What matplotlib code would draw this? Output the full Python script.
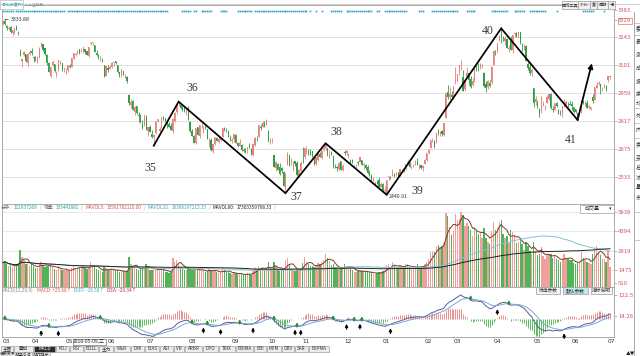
import numpy as np
import pandas as pd
import matplotlib
matplotlib.use("Agg")
import matplotlib.pyplot as plt
import matplotlib.transforms as mtransforms
from matplotlib.patches import Rectangle

plt.rcParams['font.family'] = ['Noto Sans CJK SC', 'DejaVu Sans']

# ---- data: SSE daily candles, 2018-03-12 .. 2019-07-02 ----
month_labels = ['03', '04', '05', '06', '07', '08', '09', '10', '11', '12',
                '01', '02', '03', '04', '05', '06', '07']
month_sizes = [15, 18, 22, 20, 22, 23, 19, 18, 22, 20, 22, 15, 21, 21, 20, 19, 2]

opens = [
    3310, 3327, 3300, 3285, 3295, 3262, 3268, 3297, 3270, 3170, 3122, 3155, 3157, 3110, 3160,
    3174, 3142, 3137, 3116, 3139, 3197, 3206, 3189, 3150, 3111, 3045, 3104, 3107, 3056, 3074, 3110, 3112, 3079,
    3081, 3075, 3096, 3092, 3134, 3152, 3162, 3181, 3170, 3172, 3183, 3172, 3149, 3209, 3214, 3205, 3163, 3153, 3133, 3129, 3101, 3048,
    3084, 3081, 3091, 3110, 3120, 3100, 3064, 3053, 3069, 3036, 3041, 2950, 2899, 2917, 2863, 2893, 2848, 2843, 2794, 2796,
    2842, 2765, 2788, 2752, 2737, 2753, 2819, 2768, 2783, 2839, 2832, 2812, 2801, 2790, 2768, 2818, 2860, 2903, 2899, 2888, 2874, 2860,
    2882, 2810, 2767, 2738, 2706, 2784, 2740, 2794, 2771, 2787, 2775, 2700, 2722, 2664, 2701, 2731, 2712, 2720, 2737, 2782, 2772, 2765, 2729,
    2716, 2725, 2744, 2702, 2691, 2696, 2668, 2663, 2673, 2689, 2673, 2641, 2693, 2731, 2735, 2785, 2784, 2801, 2798,
    2768, 2719, 2724, 2644, 2579, 2597, 2583, 2578, 2556, 2472, 2592, 2641, 2601, 2572, 2612, 2603, 2532, 2563,
    2608, 2633, 2661, 2665, 2661, 2663, 2628, 2600, 2618, 2650, 2630, 2670, 2681, 2678, 2635, 2660, 2640, 2581, 2584, 2572, 2614, 2567,
    2657, 2653, 2636, 2620, 2616, 2585, 2587, 2605, 2606, 2618, 2593, 2594, 2583, 2547, 2534, 2515, 2495, 2510, 2518, 2483,
    2497, 2461, 2446, 2529, 2532, 2536, 2538, 2540, 2556, 2535, 2570, 2569, 2571, 2598, 2603, 2576, 2585, 2598, 2609, 2592, 2593, 2577,
    2597, 2617, 2654, 2677, 2719, 2717, 2705, 2762, 2755, 2765, 2745, 2833, 2966, 2941, 2947,
    2954, 3015, 3020, 3063, 3102, 3039, 2979, 3041, 3060, 3029, 3001, 3025, 3097, 3092, 3090, 3094, 3059, 3005, 2990, 3008, 3014,
    3104, 3177, 3171, 3231, 3259, 3243, 3225, 3235, 3183, 3222, 3178, 3257, 3263, 3250, 3271, 3202, 3196, 3196, 3106, 3090, 3063,
    2984, 2914, 2898, 2878, 2869, 2897, 2877, 2906, 2926, 2955, 2880, 2870, 2906, 2874, 2858, 2850, 2888, 2893, 2907, 2904,
    2901, 2888, 2877, 2856, 2842, 2857, 2919, 2902, 2910, 2888, 2880, 2941, 2925, 2984, 3005, 3004, 2973, 2989, 2994,
    3024, 3043,
]
highs = [
    3329, 3334, 3306, 3300, 3299, 3280, 3291, 3304, 3277, 3182, 3134, 3172, 3160, 3162, 3177,
    3190, 3147, 3147, 3146, 3192, 3220, 3207, 3190, 3156, 3118, 3092, 3126, 3107, 3073, 3129, 3125, 3114, 3090,
    3087, 3100, 3106, 3136, 3164, 3162, 3177, 3185, 3187, 3192, 3183, 3175, 3194, 3220, 3219, 3205, 3177, 3156, 3148, 3136, 3103, 3098,
    3103, 3101, 3116, 3117, 3124, 3100, 3067, 3080, 3072, 3055, 3047, 2954, 2928, 2923, 2894, 2893, 2864, 2853, 2820, 2847,
    2845, 2787, 2794, 2770, 2749, 2815, 2828, 2787, 2839, 2844, 2834, 2816, 2809, 2808, 2833, 2861, 2905, 2915, 2910, 2893, 2893, 2877,
    2895, 2815, 2778, 2747, 2779, 2788, 2795, 2805, 2791, 2796, 2777, 2730, 2732, 2698, 2735, 2736, 2740, 2737, 2780, 2788, 2779, 2767, 2745,
    2729, 2751, 2750, 2712, 2727, 2698, 2681, 2680, 2686, 2707, 2679, 2699, 2737, 2741, 2797, 2801, 2816, 2817, 2827,
    2771, 2732, 2731, 2645, 2614, 2605, 2604, 2584, 2562, 2553, 2659, 2641, 2628, 2612, 2615, 2611, 2574, 2612,
    2686, 2681, 2687, 2673, 2675, 2665, 2631, 2631, 2658, 2658, 2669, 2690, 2703, 2681, 2668, 2664, 2640, 2597, 2587, 2604, 2615, 2596,
    2668, 2667, 2653, 2624, 2624, 2595, 2598, 2612, 2635, 2619, 2602, 2598, 2594, 2568, 2548, 2529, 2508, 2515, 2532, 2505,
    2501, 2488, 2516, 2536, 2534, 2574, 2553, 2555, 2556, 2571, 2574, 2573, 2598, 2618, 2609, 2588, 2597, 2618, 2630, 2597, 2594, 2590,
    2625, 2654, 2673, 2721, 2731, 2722, 2755, 2775, 2766, 2772, 2805, 2961, 3000, 2990, 2969,
    2995, 3090, 3054, 3103, 3129, 3075, 3026, 3090, 3060, 3044, 3034, 3096, 3102, 3110, 3110, 3106, 3064, 3018, 3023, 3024, 3094,
    3177, 3180, 3216, 3253, 3288, 3248, 3249, 3236, 3201, 3249, 3254, 3268, 3271, 3271, 3271, 3213, 3206, 3198, 3116, 3107, 3088,
    2986, 2942, 2925, 2883, 2942, 2917, 2900, 2948, 2956, 2957, 2894, 2910, 2912, 2876, 2871, 2892, 2926, 2922, 2913, 2920,
    2918, 2888, 2878, 2858, 2875, 2925, 2922, 2918, 2921, 2897, 2890, 2954, 2988, 3015, 3018, 3006, 2988, 3006, 2999,
    3046, 3048,
]
lows = [
    3306, 3303, 3280, 3280, 3263, 3252, 3261, 3278, 3254, 3146, 3091, 3147, 3118, 3098, 3154,
    3154, 3115, 3120, 3111, 3139, 3195, 3175, 3155, 3101, 3066, 3042, 3097, 3066, 3041, 3070, 3107, 3069, 3068,
    3056, 3068, 3087, 3092, 3134, 3145, 3157, 3158, 3169, 3165, 3156, 3154, 3140, 3203, 3201, 3168, 3149, 3133, 3124, 3118, 3041, 3046,
    3065, 3081, 3088, 3099, 3108, 3060, 3040, 3042, 3049, 3034, 3011, 2896, 2882, 2874, 2845, 2853, 2812, 2805, 2776, 2792,
    2770, 2741, 2759, 2730, 2691, 2752, 2812, 2763, 2783, 2820, 2811, 2780, 2786, 2770, 2753, 2812, 2852, 2893, 2880, 2867, 2860, 2847,
    2823, 2763, 2738, 2705, 2701, 2744, 2729, 2779, 2757, 2777, 2723, 2683, 2666, 2653, 2696, 2713, 2705, 2715, 2737, 2767, 2759, 2737, 2714,
    2706, 2712, 2703, 2685, 2687, 2663, 2658, 2652, 2656, 2678, 2644, 2638, 2688, 2717, 2734, 2773, 2784, 2787, 2797,
    2710, 2701, 2702, 2583, 2564, 2566, 2544, 2552, 2486, 2449, 2590, 2585, 2590, 2562, 2589, 2537, 2532, 2563,
    2605, 2625, 2647, 2641, 2641, 2634, 2592, 2590, 2611, 2631, 2624, 2662, 2669, 2638, 2630, 2642, 2579, 2575, 2563, 2565, 2567, 2563,
    2641, 2644, 2630, 2601, 2601, 2580, 2582, 2595, 2606, 2593, 2573, 2565, 2546, 2537, 2508, 2510, 2488, 2497, 2483, 2482,
    2456, 2455, 2441, 2516, 2519, 2536, 2532, 2536, 2531, 2535, 2563, 2555, 2567, 2595, 2580, 2573, 2581, 2592, 2593, 2570, 2573, 2560,
    2597, 2613, 2648, 2677, 2708, 2679, 2705, 2745, 2740, 2739, 2738, 2833, 2926, 2924, 2930,
    2930, 3006, 3016, 3050, 3075, 2969, 2969, 3040, 2999, 2984, 2995, 3016, 3073, 3073, 3082, 3084, 2990, 2964, 2980, 2990, 3004,
    3104, 3154, 3162, 3225, 3216, 3226, 3201, 3186, 3168, 3176, 3163, 3246, 3245, 3237, 3211, 3171, 3179, 3120, 3077, 3050, 3045,
    2890, 2898, 2884, 2838, 2855, 2893, 2875, 2906, 2921, 2877, 2862, 2870, 2887, 2851, 2845, 2839, 2888, 2891, 2889, 2898,
    2872, 2856, 2856, 2822, 2842, 2856, 2902, 2892, 2882, 2876, 2870, 2909, 2923, 2983, 2998, 2955, 2968, 2987, 2971,
    3016, 3030,
]
closes = [
    3327, 3310, 3291, 3291, 3269, 3279, 3290, 3281, 3263, 3153, 3134, 3167, 3123, 3160, 3169,
    3163, 3136, 3131, 3138, 3190, 3208, 3180, 3159, 3111, 3067, 3091, 3117, 3071, 3068, 3129, 3117, 3075, 3082,
    3081, 3100, 3091, 3136, 3161, 3159, 3174, 3163, 3174, 3192, 3170, 3154, 3193, 3214, 3214, 3169, 3155, 3141, 3135, 3120, 3041, 3095,
    3075, 3091, 3114, 3115, 3110, 3067, 3052, 3080, 3049, 3044, 3022, 2907, 2915, 2875, 2890, 2859, 2844, 2813, 2786, 2847,
    2776, 2786, 2759, 2734, 2747, 2815, 2827, 2777, 2837, 2831, 2814, 2798, 2787, 2773, 2829, 2859, 2905, 2903, 2882, 2874, 2869, 2876,
    2824, 2768, 2741, 2705, 2779, 2744, 2795, 2795, 2785, 2781, 2724, 2705, 2669, 2698, 2734, 2715, 2725, 2730, 2780, 2777, 2770, 2737, 2725,
    2720, 2750, 2705, 2691, 2703, 2670, 2665, 2657, 2686, 2682, 2652, 2700, 2731, 2730, 2797, 2782, 2806, 2792, 2821,
    2716, 2721, 2725, 2584, 2607, 2568, 2547, 2561, 2486, 2550, 2655, 2595, 2603, 2604, 2599, 2542, 2568, 2603,
    2606, 2677, 2665, 2659, 2641, 2636, 2599, 2631, 2655, 2632, 2669, 2680, 2703, 2646, 2651, 2646, 2580, 2576, 2575, 2602, 2568, 2588,
    2655, 2666, 2649, 2605, 2606, 2585, 2594, 2603, 2634, 2594, 2598, 2577, 2550, 2537, 2517, 2527, 2504, 2498, 2483, 2494,
    2465, 2464, 2515, 2534, 2527, 2544, 2536, 2554, 2536, 2571, 2570, 2560, 2596, 2610, 2580, 2581, 2592, 2601, 2597, 2594, 2575, 2585,
    2619, 2653, 2671, 2721, 2720, 2682, 2754, 2756, 2762, 2751, 2804, 2961, 2941, 2954, 2941,
    2995, 3027, 3054, 3103, 3106, 2970, 3026, 3061, 3027, 2991, 3022, 3096, 3091, 3090, 3101, 3104, 2997, 2982, 3022, 2995, 3091,
    3171, 3176, 3216, 3247, 3245, 3239, 3241, 3189, 3189, 3177, 3254, 3263, 3251, 3271, 3215, 3198, 3202, 3124, 3086, 3063, 3078,
    2907, 2926, 2893, 2850, 2939, 2903, 2883, 2938, 2955, 2882, 2871, 2906, 2892, 2853, 2852, 2892, 2910, 2915, 2906, 2899,
    2891, 2862, 2861, 2827, 2852, 2925, 2909, 2910, 2882, 2888, 2890, 2918, 2988, 3001, 3008, 2982, 2976, 2997, 2979,
    3044, 3044,
]
volumes = [
    2050, 2150, 1900, 1750, 1850, 1700, 1800, 1950, 2000, 2950, 2450, 2200, 1950, 1900, 1800,
    1900, 1750, 1650, 1600, 2000, 2100, 1800, 1700, 1750, 1800, 1900, 1750, 1550, 1500, 1750, 1600, 1500, 1450,
    1450, 1500, 1400, 1600, 1800, 1650, 1600, 1650, 1700, 1750, 1650, 1550, 1600, 2050, 1850, 1750, 1550, 1450, 1400, 1350, 1700, 1600,
    1500, 1450, 1550, 1500, 1450, 1450, 1350, 1400, 1400, 1300, 1400, 2450, 1950, 1700, 1600, 1550, 1500, 1600, 1700, 1650,
    1900, 1750, 1500, 1450, 1600, 1650, 1450, 1400, 1650, 1500, 1350, 1300, 1250, 1300, 2350, 2100, 2200, 1950, 1700, 1600, 1500, 1450,
    1700, 1650, 1500, 1450, 1600, 1500, 1450, 1500, 1400, 1350, 1400, 1550, 1500, 1400, 1450, 1300, 1250, 1300, 1600, 1450, 1350, 1300, 1250,
    1200, 1300, 1250, 1150, 1200, 1150, 1100, 1150, 1250, 1200, 1100, 1400, 1600, 1550, 1800, 1550, 1650, 1500, 1600,
    2100, 1600, 1450, 2050, 1800, 1500, 1400, 1450, 1550, 2250, 2350, 1900, 1650, 1500, 1400, 1450, 1500, 1650,
    2000, 2450, 2100, 1900, 1800, 1750, 1700, 1850, 2000, 1950, 2050, 2200, 2650, 2400, 2150, 1850, 1950, 1700, 1550, 1550, 1600, 1550,
    1900, 1800, 1700, 1650, 1500, 1350, 1300, 1400, 1500, 1400, 1300, 1350, 1300, 1350, 1300, 1200, 1200, 1250, 1350, 1300,
    1400, 1450, 1850, 1900, 1650, 2050, 1800, 1700, 1650, 1850, 1800, 1650, 1900, 1950, 1700, 1550, 1650, 1750, 1900, 1700, 1650, 1700,
    1900, 2100, 2300, 2800, 2900, 2800, 3300, 3350, 3200, 3300, 3500, 5800, 5550, 4700, 4100,
    4400, 5700, 5200, 5300, 5850, 5600, 4800, 5000, 4800, 4500, 4000, 4700, 4400, 4200, 4300, 3900, 4600, 3900, 3600, 3400, 4400,
    5100, 4500, 4600, 5100, 5200, 4200, 3900, 4000, 3500, 4500, 4300, 4000, 3500, 3600, 3900, 3400, 3000, 3600, 3300, 2900, 2700,
    3600, 2900, 2600, 2700, 3200, 2500, 2300, 2600, 2700, 2700, 2400, 2500, 2300, 2200, 2100, 2300, 2700, 2400, 2300, 2200,
    2200, 2000, 1900, 2100, 2100, 2800, 2400, 2200, 2100, 2000, 1950, 2700, 3100, 3300, 2800, 2600, 2300, 2300, 2100,
    3000, 1700,
]

# wave pivots drawn on the price panel
pivot_names = ['35', '36', '37', '38', '39', '40', '41']
pivot_idx = [79, 92, 148, 169, 201, 261, 301]
pivot_kind = ['low', 'high', 'low', 'high', 'low', 'high', 'low']
arrow_target = (308.5, 3110)

# info-mine markers (day index ranges) on the top row
news_ranges = [(0, 5), (7, 32), (34, 41), (42, 52), (53, 63), (64, 86), (94, 98), (100, 101),
               (104, 109), (114, 117), (123, 130), (132, 159), (161, 161), (164, 164), (167, 167),
               (172, 177), (180, 193), (196, 197), (200, 211), (218, 220), (225, 238), (243, 247),
               (256, 264), (268, 273), (276, 284), (290, 290), (304, 309), (315, 315)]

price_ticks = [2533, 2675, 2817, 2959, 3101, 3243, 3329, 3383]
vol_ticks = [510, 1475, 2919, 4394, 5838]
macd_ticks = [14.26, 122.5]

n = len(closes)
assert len(opens) == n and len(highs) == n and len(lows) == n and len(volumes) == n
assert sum(month_sizes) == n
idx = np.arange(n)
month_starts = np.concatenate([[0], np.cumsum(month_sizes)[:-1]])

W, H = 640, 356
UP, DOWN = '#e7817d', '#2f9e44'
VUP, VDOWN = '#efa09c', '#4fb556'
LABEL_RED = '#d9534f'
SPINE = '#9e9e9e'
XLIM = (-0.52, 320.1)

fig = plt.figure(figsize=(6.4, 3.56), dpi=100)
renderer = fig.canvas.get_renderer()


def add_ax(x0, y0, x1, y1):
    return fig.add_axes([x0 / W, 1 - y1 / H, (x1 - x0) / W, (y1 - y0) / H])


def ftext(x, y, s, **kw):
    kw.setdefault('va', 'center')
    kw.setdefault('fontsize', 4.3)
    return fig.text(x / W, 1 - y / H, s, **kw)


def text_row(x, y, parts, size=3.4, gap=2.0):
    # lay out coloured chunks one after another, measured in pixels
    for t, col in parts:
        txt = ftext(x, y, t, color=col, fontsize=size)
        x += txt.get_window_extent(renderer).width + gap


def fbox(x0, y0, x1, y1, fc='white', ec='#a8a8a8', lw=0.5):
    fig.add_artist(Rectangle((x0 / W, 1 - y1 / H), (x1 - x0) / W, (y1 - y0) / H,
                             transform=fig.transFigure, fc=fc, ec=ec, lw=lw))


def style_axes(a):
    for s in a.spines.values():
        s.set_color(SPINE)
        s.set_linewidth(0.6)
    a.set_xlim(*XLIM)
    a.yaxis.tick_right()
    a.tick_params(axis='y', labelsize=4.3, labelcolor=LABEL_RED, color=SPINE,
                  length=2, width=0.5, pad=1)


o = np.array(opens, float)
c = np.array(closes, float)
up = c >= o

# ---------------- price panel ----------------
ax = add_ax(2, 5, 614, 204)
style_axes(ax)
ax.set_ylim(2394, 3407)
ax.set_xticks([])
for t in price_ticks[:6]:
    ax.axhline(t, color='#dcdcdc', lw=0.6, zorder=0)
ax.set_yticks(price_ticks)
lbls = ax.set_yticklabels([str(t) for t in price_ticks])
lbls[6].set_bbox(dict(facecolor='white', edgecolor=LABEL_RED, lw=0.4, pad=0.4))

cols = np.where(up, UP, DOWN)
ax.vlines(idx, lows, highs, colors=cols, lw=0.6, zorder=2)
ax.bar(idx, np.maximum(np.abs(c - o), 2.5), bottom=np.minimum(o, c), width=0.62,
       color=cols, lw=0, zorder=2)

for a0, a1 in news_ranges:
    xs = np.arange(a0, a1 + 1)
    ax.plot(xs, np.full(len(xs), 3377.0), ls='none', marker='s', ms=1.2,
            color='#33a2c8', mew=0)

piv_y = [lows[i] if k == 'low' else highs[i] for i, k in zip(pivot_idx, pivot_kind)]
ax.plot(pivot_idx, piv_y, color='black', lw=1.25, zorder=4, solid_joinstyle='miter')
ax.annotate('', xy=arrow_target, xytext=(pivot_idx[-1], piv_y[-1]),
            arrowprops=dict(arrowstyle='-|>', color='black', lw=1.25,
                            mutation_scale=7, shrinkA=0, shrinkB=0), zorder=4)
label_offsets = [(-3, -22), (14, 14), (11, -4), (11, 11), (31, 4), (-13, -3), (-7, -20)]
for name, i, yv, off in zip(pivot_names, pivot_idx, piv_y, label_offsets):
    ax.annotate(name, (i, yv), xytext=off, textcoords='offset pixels', ha='center',
                va='center', fontsize=8.5, color='#3a3a3a', family=['Liberation Serif'])

imax = int(np.argmax(highs))
ax.annotate('%.2f' % 3333.88, (imax, highs[imax]), xytext=(6, 0), textcoords='offset pixels',
            ha='left', va='center', fontsize=3.8, color='#333',
            arrowprops=dict(arrowstyle='-', lw=0.5, color='#333', shrinkA=0, shrinkB=0))
imin = int(np.argmin(lows))
ax.annotate('%.2f' % 2440.91, (imin, lows[imin]), xytext=(2, -2), textcoords='offset pixels',
            ha='left', va='center', fontsize=3.8, color='#333')

# ---------------- volume panel ----------------
axv = add_ax(2, 204, 614, 287)
style_axes(axv)
axv.set_ylim(210, 6438)
axv.set_xticks([])
for t in vol_ticks[1:]:
    axv.axhline(t, color='#e6e6e6', lw=0.6, zorder=0)
axv.set_yticks(vol_ticks)
axv.bar(idx, volumes, width=0.72, color=np.where(up, VUP, VDOWN), lw=0, zorder=2)
vs = pd.Series(volumes, dtype=float)
axv.plot(idx, vs.rolling(5, min_periods=1).mean(), color='#7a3a2a', lw=0.7, zorder=3)
axv.plot(idx, vs.rolling(60, min_periods=1).mean(), color='#7fc4d2', lw=0.7, zorder=3)
axv.plot(idx, vs.rolling(120, min_periods=1).mean(), color='#222222', lw=0.7, zorder=3)

# ---------------- MACD panel ----------------
axm = add_ax(2, 287, 614, 337)
style_axes(axm)
axm.set_ylim(-93.9, 163.7)
axm.set_yticks(macd_ticks)
axm.set_yticklabels(['14.26', '122.5'])
s = pd.Series(closes, dtype=float)
diff = s.ewm(span=12, adjust=False).mean() - s.ewm(span=26, adjust=False).mean()
dea = diff.ewm(span=9, adjust=False).mean()
hist = 2 * (diff - dea)
axm.vlines(idx, 0, hist, colors=np.where(hist >= 0, '#e88e8e', '#5cbd5c'), lw=0.7)
axm.plot(idx, diff, color='#5d5d8f', lw=0.7)
axm.plot(idx, dea, color='#7aa9dc', lw=0.7)
d, e = diff.values, dea.values
golden = np.where((d[1:] > e[1:]) & (d[:-1] <= e[:-1]))[0] + 1
dead = np.where((d[1:] < e[1:]) & (d[:-1] >= e[:-1]))[0] + 1
for i in golden:
    y0 = min(d[i], e[i])
    axm.annotate('', xy=(i, y0 - 18), xytext=(i, y0 - 45),
                 arrowprops=dict(arrowstyle='-|>', color='black', lw=0.9,
                                 mutation_scale=4, shrinkA=0, shrinkB=0))
for i in dead:
    y0 = max(d[i], e[i])
    axm.annotate('', xy=(i, y0 + 20), xytext=(i, y0 - 5),
                 arrowprops=dict(arrowstyle='-|>', color='#2e8b3e', lw=0.9,
                                 mutation_scale=4, shrinkA=0, shrinkB=0))

axm.set_xticks(month_starts)
axm.set_xticklabels(month_labels, ha='left', family=['DejaVu Sans'])
axm.tick_params(axis='x', labelsize=4.2, labelcolor='#333', color=SPINE,
                length=1, width=0.5, pad=0.4)
trans = mtransforms.blended_transform_factory(axm.transData, axm.transAxes)
axm.text(36.8, -0.045, '2018-05-09,三', transform=trans, ha='left', va='top',
         fontsize=3.6, color='#222',
         bbox=dict(facecolor='white', edgecolor='#777', lw=0.5, pad=0.3))

# ---------------- headers and chrome ----------------
fig.add_artist(plt.Line2D([0, 1], [1 - 3.5 / H] * 2, color='#c8c8c8', lw=0.6))
fbox(0, 0.5, 23, 8.5, fc='white', ec='#bcbcbc')
text_row(1, 4.5, [('日线(前复权)', '#1c9ab4'), ('| 上证指数', '#8a8a8a')], size=2.8, gap=2.5)

btns = ['画线工具', '7/16', '复', '周期', '◀']
bx = [562, 578, 590, 597, 608, 615]
for k, b in enumerate(btns):
    fbox(bx[k], 1, bx[k + 1], 9, fc='#f2f2f2', ec='#9c9c9c')
    ftext((bx[k] + bx[k + 1]) / 2, 5, b, ha='center', fontsize=3.0, color='#333')

text_row(1, 207.5, [('总手:', '#777'), ('122937269', '#22a39a'), ('/', '#999'),
                    ('现量:', '#777'), ('133441881', '#22a39a'), ('/', '#999'),
                    ('MAVOL5:', LABEL_RED), ('13561782110.00', LABEL_RED), ('/', '#999'),
                    ('MAVOL10:', '#3aa4bf'), ('16388197213.33', '#3aa4bf'), ('/', '#999'),
                    ('MAVOL60:', '#222'), ('17303359768.33', '#222'), ('/', '#999')])
fbox(580, 204.5, 614, 212.5, fc='white', ec='#9c9c9c')
ftext(592, 208.5, '成交量', ha='center', fontsize=3.6, color='#333')
ftext(610, 208.5, '▾', ha='center', fontsize=3.6, color='#333')

text_row(2, 290.5, [('MACD(12,26,9)', '#888'), ('MACD: +25.68↑', LABEL_RED),
                    ('DIFF: -16.50↑', '#3aa4bf'), ('DEA: -29.34↑', '#b0305a')], gap=3)
mb = [('优选参数', 536, 560, '#f4f4f4'), ('默认参数', 563, 588, '#bfe8ef'),
      ('指标说明', 591, 612, '#f4f4f4')]
for t, x0, x1, fc in mb:
    fbox(x0, 286.5, x1, 294, fc=fc, ec='#9c9c9c')
    ftext((x0 + x1) / 2, 290.3, t, ha='center', fontsize=3.4, color='#333')

tabs = ['主图', '叠加', 'MACD', 'KDJ', 'RSI', 'BOLL', '主力', 'W&R', 'DMI', 'BIAS', 'ASI',
        'VR', 'ARBR', 'DPO', 'TRIX', 'BBIMA', 'BBI', 'MTM', 'OBV', 'SAR', 'EXPMA']
tab_x = [1, 14, 34, 56, 70, 84, 99, 114, 131, 145, 160, 174, 185, 203, 219, 236, 254, 267,
         282, 295, 309, 330]
for k, t in enumerate(tabs):
    sel = t == 'MACD'
    fbox(tab_x[k], 345.5, tab_x[k + 1] - 1, 351.8, fc='#2b2b2b' if sel else '#ececec',
         ec='#a0a0a0')
    ftext((tab_x[k] + tab_x[k + 1] - 1) / 2, 348.7, t, ha='center', fontsize=3.3,
          color='white' if sel else '#333', style='italic' if sel else 'normal')
tabs2 = ['相关资讯', '操盘必读', '操作提示']
tab2_x = [1, 16, 33, 51]
for k, t in enumerate(tabs2):
    fbox(tab2_x[k], 352.2, tab2_x[k + 1] - 1, 357, fc='#ececec', ec='#a0a0a0')
    ftext((tab2_x[k] + tab2_x[k + 1] - 1) / 2, 354.6, t, ha='center', fontsize=2.8,
          color='#333')
ftext(631, 354, '▲▼', ha='center', fontsize=3.4, color='#222')

# right side quote strip (mostly cut off)
fig.add_artist(plt.Line2D([634 / W] * 2, [0, 1 - 12 / H], color='#9c9c9c', lw=0.6))
side_chars = ['委', '最', '涨', '成', '振', '换', '均', '外', '内', '卖', '买', '总', '流', '量', '市']
side_y = [28, 42, 55, 68, 82, 94, 104, 117, 131, 145, 158, 168, 178, 188, 198]
for ch, y in zip(side_chars, side_y):
    ftext(635.5, y, ch, fontsize=4.2, color='#333')
for y in [23, 35, 108, 123, 138, 160, 212, 240]:
    fig.add_artist(plt.Line2D([634 / W, 1], [1 - y / H] * 2, color='#b0b0b0', lw=0.5))

fig.savefig('out.png', dpi=100, facecolor='white')
